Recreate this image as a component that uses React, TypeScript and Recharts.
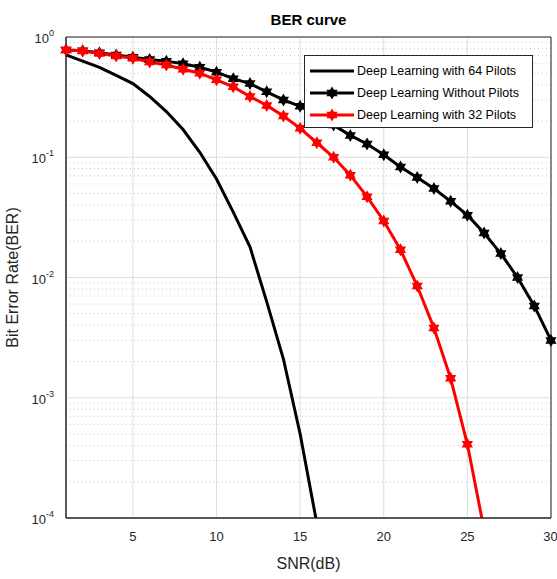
import React from "react";
import {
  CartesianGrid,
  Line,
  LineChart,
  ReferenceLine,
  XAxis,
  YAxis,
} from "recharts";

const snr = [
  1, 2, 3, 4, 5, 6, 7, 8, 9, 10, 11, 12, 13, 14, 15, 16, 17, 18, 19, 20, 21,
  22, 23, 24, 25, 26, 27, 28, 29, 30,
];

const ber64Pilots = [
  0.71, 0.63, 0.56, 0.48, 0.41, 0.32, 0.24, 0.17, 0.11, 0.066, 0.035, 0.018,
  0.0063, 0.0021, 0.0005, 0.00009,
];

const berNoPilots = [
  0.78, 0.77, 0.74, 0.71, 0.68, 0.65, 0.63, 0.6, 0.56, 0.51, 0.45, 0.41, 0.35,
  0.3, 0.265, 0.225, 0.185, 0.152, 0.129, 0.105, 0.083, 0.068, 0.055, 0.043,
  0.033, 0.0234, 0.0158, 0.01, 0.0058, 0.003,
];

const ber32Pilots = [
  0.78, 0.765, 0.73, 0.695, 0.665, 0.62, 0.585, 0.54, 0.5, 0.44, 0.385, 0.32,
  0.27, 0.22, 0.174, 0.132, 0.1, 0.071, 0.047, 0.0295, 0.017, 0.0085, 0.0038,
  0.00145, 0.00041, 0.00008,
];

const xTicks = [5, 10, 15, 20, 25, 30];
const yTicks = [1e-4, 1e-3, 1e-2, 1e-1, 1];
const minorMantissas = [2, 3, 4, 5, 6, 7, 8, 9];
const decades = [1e-4, 1e-3, 1e-2, 1e-1];

const seriesNames = [
  "Deep Learning with 64 Pilots",
  "Deep Learning Without Pilots",
  "Deep Learning with 32 Pilots",
];

const data = snr.map((s, i) => ({
  snr: s,
  p64: ber64Pilots[i],
  none: berNoPilots[i],
  p32: ber32Pilots[i],
}));

const minorValues = decades.flatMap((d) => minorMantissas.map((m) => m * d));

const FONT = "'Liberation Sans', Arial, Helvetica, sans-serif";
const AXIS = "#262626";

function hexagramPoints(cx: number, cy: number, r: number) {
  const k = 0.866 * r;
  const up = `${cx},${cy - r} ${cx + k},${cy + r / 2} ${cx - k},${cy + r / 2}`;
  const down = `${cx},${cy + r} ${cx + k},${cy - r / 2} ${cx - k},${cy - r / 2}`;
  return [up, down];
}

function Star({ cx, cy, color }: { cx: number; cy: number; color: string }) {
  if (cx == null || cy == null || Number.isNaN(cy)) return null;
  const [up, down] = hexagramPoints(cx, cy, 6.5);
  return (
    <g>
      <polygon points={up} fill={color} />
      <polygon points={down} fill={color} />
    </g>
  );
}

function YTick({ x, y, payload }: any) {
  const exp = Math.round(Math.log10(payload.value));
  return (
    <text
      x={x - 4}
      y={y + 6}
      textAnchor="end"
      fill={AXIS}
      fontSize={13}
      fontFamily={FONT}
    >
      10
      <tspan dy={-7} fontSize={9}>
        {exp}
      </tspan>
    </text>
  );
}

function LegendBox() {
  const rows = [
    { name: seriesNames[0], color: "#000", marker: false },
    { name: seriesNames[1], color: "#000", marker: true },
    { name: seriesNames[2], color: "#ff0000", marker: true },
  ];
  return (
    <div
      style={{
        position: "absolute",
        left: 304,
        top: 55,
        width: 229,
        height: 73,
        background: "#fff",
        border: "1px solid #262626",
        boxSizing: "border-box",
        fontFamily: FONT,
        fontSize: 12.5,
        color: "#000",
        paddingTop: 4,
      }}
    >
      {rows.map((r) => (
        <div
          key={r.name}
          style={{ display: "flex", alignItems: "center", height: 22 }}
        >
          <svg width={52} height={16} style={{ flex: "none" }}>
            <line x1={5} x2={49} y1={8} y2={8} stroke={r.color} strokeWidth={3} />
            {r.marker && <Star cx={27} cy={8} color={r.color} />}
          </svg>
          <span style={{ whiteSpace: "nowrap" }}>{r.name}</span>
        </div>
      ))}
    </div>
  );
}

export default function App() {
  return (
    <div
      style={{
        position: "absolute",
        left: 0,
        top: 0,
        width: 557,
        height: 579,
        background: "#fff",
      }}
    >
      <div
        style={{
          position: "absolute",
          top: 11,
          left: 66,
          width: 485,
          textAlign: "center",
          fontFamily: FONT,
          fontWeight: "bold",
          fontSize: 15,
          color: "#000",
        }}
      >
        BER curve
      </div>
      <LineChart
        width={557}
        height={579}
        data={data}
        margin={{ top: 37, right: 6, bottom: 0, left: 0 }}
      >
        <CartesianGrid stroke="#dedede" strokeWidth={1} />
        {minorValues.map((v) => (
          <ReferenceLine
            key={v}
            y={v}
            stroke="#c8c8c8"
            strokeDasharray="1 3"
            strokeWidth={1}
          />
        ))}
        <ReferenceLine y={1} stroke={AXIS} strokeWidth={1} />
        <ReferenceLine x={30} stroke={AXIS} strokeWidth={1} />
        <XAxis
          dataKey="snr"
          type="number"
          domain={[1, 30]}
          ticks={xTicks}
          height={61}
          tickLine={false}
          axisLine={{ stroke: AXIS, strokeWidth: 1.5 }}
          tick={{ fill: AXIS, fontSize: 13, fontFamily: FONT }}
          tickMargin={8}
          label={{
            value: "SNR(dB)",
            position: "insideBottom",
            offset: 10,
            fill: AXIS,
            fontSize: 16,
            fontFamily: FONT,
          }}
        />
        <YAxis
          scale="log"
          domain={[1e-4, 1]}
          allowDataOverflow
          ticks={yTicks}
          width={66}
          tickLine={false}
          axisLine={{ stroke: AXIS, strokeWidth: 1.5 }}
          tick={<YTick />}
          label={{
            value: "Bit Error Rate(BER)",
            angle: -90,
            position: "insideLeft",
            offset: 12,
            fill: AXIS,
            fontSize: 16,
            fontFamily: FONT,
            style: { textAnchor: "middle" },
          }}
        />
        <Line
          dataKey="p64"
          stroke="#000"
          strokeWidth={3}
          dot={false}
          isAnimationActive={false}
          type="linear"
        />
        <Line
          dataKey="none"
          stroke="#000"
          strokeWidth={3}
          dot={(p: any) => <Star key={`n${p.index}`} cx={p.cx} cy={p.cy} color="#000" />}
          isAnimationActive={false}
          type="linear"
        />
        <Line
          dataKey="p32"
          stroke="#ff0000"
          strokeWidth={3}
          dot={(p: any) => <Star key={`r${p.index}`} cx={p.cx} cy={p.cy} color="#ff0000" />}
          isAnimationActive={false}
          type="linear"
        />
      </LineChart>
      <LegendBox />
    </div>
  );
}
